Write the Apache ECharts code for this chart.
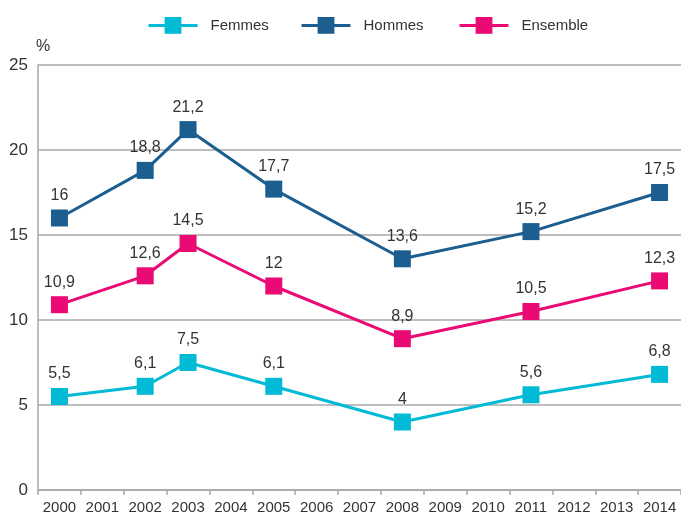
<!DOCTYPE html>
<html><head><meta charset="utf-8">
<script src="https://cdn.jsdelivr.net/npm/echarts@6/dist/echarts.min.js"></script>
<style>html,body{margin:0;padding:0;background:#fff}#c{width:681px;height:517px}</style>
</head><body><div id="c"></div>
<script>
var years = ['2000','2001','2002','2003','2004','2005','2006','2007','2008','2009','2010','2011','2012','2013','2014'];
var femmes =   [5.5, null, 6.1, 7.5, null, 6.1, null, null, 4,   null, null, 5.6,  null, null, 6.8];
var hommes =   [16,  null, 18.8,21.2,null, 17.7,null, null, 13.6,null, null, 15.2, null, null, 17.5];
var ensemble = [10.9,null, 12.6,14.5,null, 12,  null, null, 8.9, null, null, 10.5, null, null, 12.3];
var seriesNames = ['Femmes', 'Hommes', 'Ensemble'];
var yTicks = [0, 5, 10, 15, 20, 25];

var FONT = "'Liberation Sans',Arial,sans-serif";
var TXT = '#333333';
var GRAY = '#a8a8a8';
var COLORS = ['#00bad6', '#1b5e8f', '#ea0a73'];

function mk(name, data, color) {
  return {
    name: name, type: 'line', data: data, connectNulls: true,
    symbol: 'rect', symbolSize: 17,
    lineStyle: { color: color, width: 3 },
    itemStyle: { color: color },
    label: {
      show: true, position: 'top', distance: 6,
      color: TXT, fontFamily: FONT, fontSize: 16,
      formatter: function (p) { return String(p.value).replace('.', ','); }
    },
    emphasis: { disabled: true },
    animation: false
  };
}

function lg(i, left) {
  return {
    left: left, top: 12,
    itemWidth: 49, itemHeight: 21,
    lineStyle: { width: 3 },
    textStyle: { color: TXT, fontFamily: FONT, fontSize: 15, padding: [0, 0, 0, 8] },
    data: [seriesNames[i]],
    selectedMode: false
  };
}

var chart = echarts.init(document.getElementById('c'), null, { renderer: 'canvas' });
chart.setOption({
  backgroundColor: '#fff',
  animation: false,
  legend: [lg(0, 142), lg(1, 295), lg(2, 453)],
  grid: { left: 38, top: 65, width: 646, height: 425, containLabel: false },
  xAxis: {
    type: 'category', data: years, boundaryGap: true,
    axisLine: { lineStyle: { color: GRAY, width: 1.5 } },
    axisTick: { show: true, length: 5, lineStyle: { color: GRAY, width: 1.5 } },
    axisLabel: { color: TXT, fontFamily: FONT, fontSize: 15, margin: 10, interval: 0 },
    splitLine: { show: false }
  },
  yAxis: {
    type: 'value', min: yTicks[0], max: yTicks[yTicks.length - 1], interval: 5,
    name: '%', nameLocation: 'end', nameGap: 10,
    nameTextStyle: { color: TXT, fontFamily: FONT, fontSize: 16, align: 'center', padding: [0, 0, 0, 10] },
    axisLine: { show: true, lineStyle: { color: GRAY, width: 1.5 } },
    axisTick: { show: false },
    axisLabel: { color: TXT, fontFamily: FONT, fontSize: 17, margin: 10, verticalAlign: 'middle', padding: [12, 0, 0, 0] },
    splitLine: { show: true, lineStyle: { color: GRAY, width: 1.5 } }
  },
  series: [
    mk(seriesNames[0], femmes, COLORS[0]),
    mk(seriesNames[1], hommes, COLORS[1]),
    mk(seriesNames[2], ensemble, COLORS[2])
  ]
});
</script></body></html>
